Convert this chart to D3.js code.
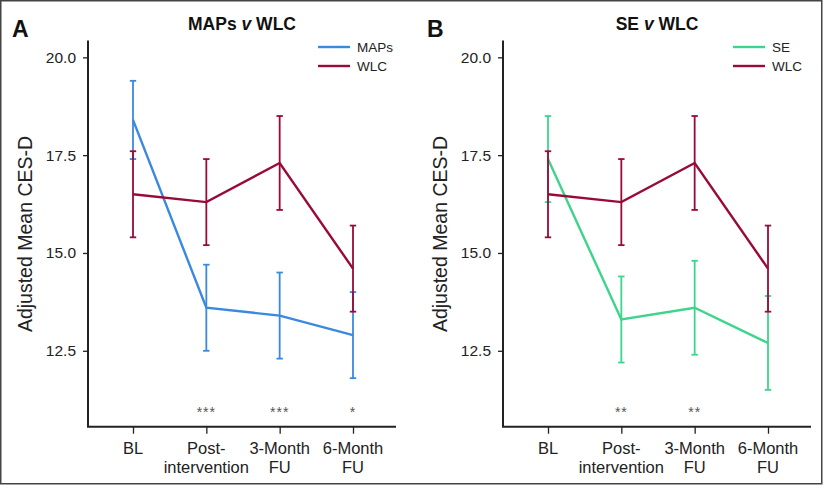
<!DOCTYPE html>
<html><head><meta charset="utf-8">
<script src="https://cdn.jsdelivr.net/npm/d3@7"></script>
<style>
body{margin:0;background:#fff;}
svg{display:block;font-family:"Liberation Sans",Arial,sans-serif;}
</style></head>
<body><svg id="c" width="825" height="495"></svg>
<script>
const categories = ["BL", "Post-intervention", "3-Month FU", "6-Month FU"];
const tickLabels = [["BL"], ["Post-", "intervention"], ["3-Month", "FU"], ["6-Month", "FU"]];
const yTicks = [12.5, 15.0, 17.5, 20.0];

const mapsMean  = [18.4, 13.6, 13.4, 12.9];
const mapsUpper = [19.4, 14.7, 14.5, 14.0];
const mapsLower = [17.4, 12.5, 12.3, 11.8];

const seMean  = [17.4, 13.3, 13.6, 12.7];
const seUpper = [18.5, 14.4, 14.8, 13.9];
const seLower = [16.3, 12.2, 12.4, 11.5];

const wlcMean  = [16.5, 16.3, 17.3, 14.6];
const wlcUpper = [17.6, 17.4, 18.5, 15.7];
const wlcLower = [15.4, 15.2, 16.1, 13.5];

const sigA = ["", "***", "***", "*"];
const sigB = ["", "**", "**", ""];

const panels = [
  {letter:"A", title:["MAPs", "WLC"], name:"MAPs", color:"#3a89df", mean:mapsMean, up:mapsUpper, lo:mapsLower, sig:sigA, dx:0},
  {letter:"B", title:["SE", "WLC"], name:"SE", color:"#3dd48c", mean:seMean, up:seUpper, lo:seLower, sig:sigB, dx:415}
];
const wlcColor = "#990a38";

const svg = d3.select("#c");
svg.append("rect").attr("x",0.75).attr("y",0.75).attr("width",821).attr("height",483)
  .attr("fill","none").attr("stroke","#444").attr("stroke-width",1.5);

const y = d3.scaleLinear().domain([10.56, 20.43]).range([426.7, 40.5]);

panels.forEach(p => {
  const g = svg.append("g").attr("transform", `translate(${p.dx},0)`);
  const x = d3.scalePoint().domain(categories).range([133, 353]);
  const axX0 = 88, axX1 = 396;

  // panel letter
  g.append("text").attr("x", 12).attr("y", 37).attr("font-size", 23).attr("font-weight", "bold")
    .attr("fill", "#111").text(p.letter);
  // title
  const t = g.append("text").attr("x", (axX0 + axX1) / 2 - 0).attr("y", 29.5).attr("text-anchor", "middle")
    .attr("font-size", 17.5).attr("font-weight", "bold").attr("fill", "#111");
  t.append("tspan").text(p.title[0] + " ");
  t.append("tspan").attr("font-style", "italic").text("v");
  t.append("tspan").text(" " + p.title[1]);

  // y axis
  const ya = g.append("g").attr("transform", `translate(${axX0},0)`)
    .call(d3.axisLeft(y).tickValues(yTicks).tickFormat(d3.format(".1f")).tickSize(5).tickPadding(7));
  ya.select(".domain").remove();
  ya.selectAll(".tick line").attr("stroke", "#222").attr("stroke-width", 1.3);
  ya.selectAll(".tick text").attr("font-size", 15.5).attr("fill", "#222")
    .attr("font-family", "Liberation Sans, Arial, sans-serif");
  g.append("line").attr("x1", axX0).attr("x2", axX0).attr("y1", y(20.43)).attr("y2", y(10.56))
    .attr("stroke", "#222").attr("stroke-width", 2);

  // x axis
  const xa = g.append("g").attr("transform", `translate(0,${y(10.56)})`)
    .call(d3.axisBottom(x).tickSize(7).tickFormat(""));
  xa.select(".domain").remove();
  xa.selectAll(".tick line").attr("stroke", "#222").attr("stroke-width", 1.3);
  g.append("line").attr("x1", axX0 - 1).attr("x2", axX1).attr("y1", y(10.56)).attr("y2", y(10.56))
    .attr("stroke", "#222").attr("stroke-width", 2);
  categories.forEach((c, i) => {
    const tx = g.append("text").attr("x", x(c)).attr("y", 454).attr("text-anchor", "middle")
      .attr("font-size", 16.5).attr("fill", "#222");
    tickLabels[i].forEach((s, j) => {
      tx.append("tspan").attr("x", x(c)).attr("dy", j === 0 ? 0 : 19).text(s);
    });
  });

  // y label
  g.append("text").attr("transform", `translate(32,234) rotate(-90)`).attr("text-anchor", "middle")
    .attr("font-size", 19.5).attr("fill", "#222").text("Adjusted Mean CES-D");

  // series
  const series = [
    {color: p.color, mean: p.mean, up: p.up, lo: p.lo},
    {color: wlcColor, mean: wlcMean, up: wlcUpper, lo: wlcLower}
  ];
  const line = d3.line().x((d, i) => x(categories[i])).y(d => y(d));
  series.forEach(s => {
    const eb = g.append("g");
    categories.forEach((c, i) => {
      const cx = x(c);
      eb.append("line").attr("x1", cx).attr("x2", cx).attr("y1", y(s.up[i])).attr("y2", y(s.lo[i]))
        .attr("stroke", s.color).attr("stroke-width", 1.8);
      [s.up[i], s.lo[i]].forEach(v => {
        eb.append("line").attr("x1", cx - 3.2).attr("x2", cx + 3.2).attr("y1", y(v)).attr("y2", y(v))
          .attr("stroke", s.color).attr("stroke-width", 1.8);
      });
    });
    g.append("path").datum(s.mean).attr("d", line).attr("fill", "none")
      .attr("stroke", s.color).attr("stroke-width", 2.4).attr("stroke-linejoin", "miter");
  });

  // significance
  categories.forEach((c, i) => {
    if (p.sig[i]) g.append("text").attr("x", x(c)).attr("y", 417).attr("text-anchor", "middle")
      .attr("font-size", 14).attr("letter-spacing", 1).attr("fill", "#555").text(p.sig[i]);
  });

  // legend
  const legX = p.letter === "A" ? 318 : 318;
  [[p.name, p.color, 47], ["WLC", wlcColor, 66]].forEach(([n, col, ly]) => {
    g.append("line").attr("x1", legX).attr("x2", legX + 32).attr("y1", ly).attr("y2", ly)
      .attr("stroke", col).attr("stroke-width", 2.4);
    g.append("text").attr("x", legX + 39).attr("y", ly + 5).attr("font-size", 13.5).attr("fill", "#222").text(n);
  });
});
</script></body></html>
